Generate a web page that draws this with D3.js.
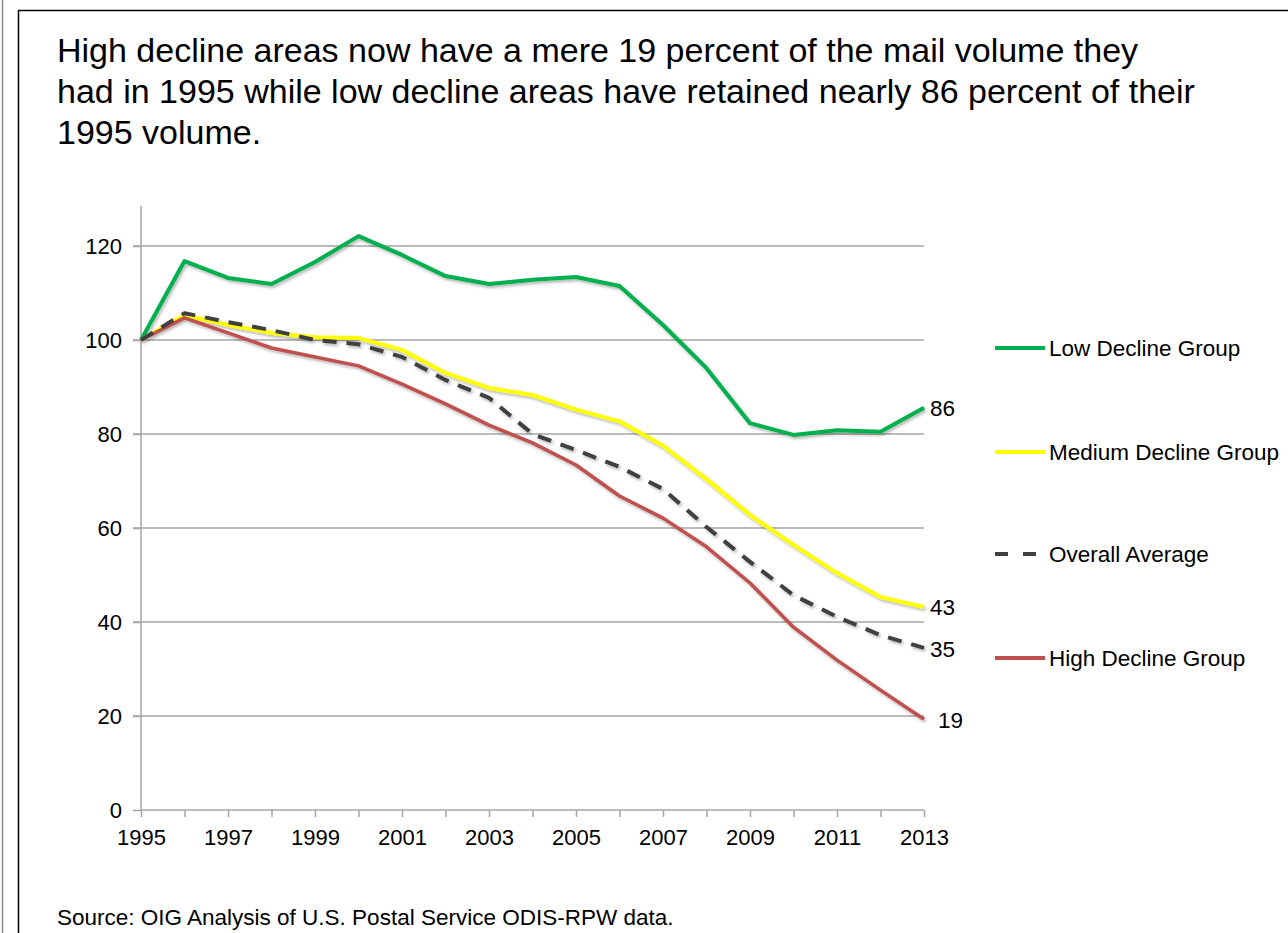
<!DOCTYPE html>
<html>
<head>
<meta charset="utf-8">
<script src="https://cdnjs.cloudflare.com/ajax/libs/d3/7.8.5/d3.min.js"></script>
<style>
  html, body { margin: 0; padding: 0; background: #fff; }
  svg { display: block; font-family: "Liberation Sans", Arial, sans-serif; }
</style>
</head>
<body>
<svg id="chart" width="1288" height="933"></svg>
<script>
// Mail volume index (1995 = 100) by area decline group
const years = d3.range(1995, 2014);
const lowDecline    = [100, 116.8, 113.2, 111.9, 116.6, 122.1, 118.1, 113.6, 111.9, 112.8, 113.4, 111.5, 103.2, 94.0, 82.3, 79.8, 80.8, 80.5, 85.6];
const mediumDecline = [100, 105.3, 103.2, 101.5, 100.6, 100.4, 97.9, 93.0, 89.8, 88.3, 85.2, 82.7, 77.5, 70.4, 62.8, 56.4, 50.4, 45.3, 43.2];
const overallAvg    = [100, 105.7, 103.8, 102.1, 100.0, 99.1, 96.4, 91.5, 87.7, 80.0, 76.6, 73.0, 68.3, 60.2, 52.8, 45.7, 41.1, 37.2, 34.5];
const highDecline   = [100, 104.7, 101.5, 98.3, 96.4, 94.5, 90.6, 86.4, 81.9, 78.1, 73.4, 66.8, 62.1, 56.0, 48.3, 38.9, 31.9, 25.5, 19.3];
const yTicks = [0, 20, 40, 60, 80, 100, 120];
const xTickLabels = [1995, 1997, 1999, 2001, 2003, 2005, 2007, 2009, 2011, 2013];
const endLabels = ["86", "43", "35", "19"];

const titleLines = [
  "High decline areas now have a mere 19 percent of the mail volume they",
  "had in 1995 while low decline areas have retained nearly 86 percent of their",
  "1995 volume."
];
const sourceText = "Source: OIG Analysis of U.S. Postal Service ODIS-RPW data.";

const series = [
  { name: "Low Decline Group",    values: lowDecline,    color: "#00b050", width: 4,   dash: null,    label: endLabels[0], ly: 348, dx: 6,  dy: 0 },
  { name: "Medium Decline Group", values: mediumDecline, color: "#ffff00", width: 4,   dash: null,    label: endLabels[1], ly: 452, dx: 6,  dy: 0 },
  { name: "Overall Average",      values: overallAvg,    color: "#404040", width: 4,   dash: "14,10", label: endLabels[2], ly: 554, dx: 6,  dy: 1 },
  { name: "High Decline Group",   values: highDecline,   color: "#c0504d", width: 3.5, dash: null,    label: endLabels[3], ly: 658, dx: 14, dy: 1 }
];
// draw order: overall sits between medium and high
const drawOrder = [0, 1, 3, 2];

const svg = d3.select("#chart");

// soft drop shadow under the series lines
const defs = svg.append("defs");
const f = defs.append("filter").attr("id", "shadow")
  .attr("x", "-5%").attr("y", "-5%").attr("width", "110%").attr("height", "120%");
f.append("feDropShadow").attr("dx", 1.5).attr("dy", 2).attr("stdDeviation", 1.5)
  .attr("flood-color", "#000").attr("flood-opacity", 0.3);

// frame
svg.append("line").attr("x1", 2.5).attr("x2", 2.5).attr("y1", 0).attr("y2", 933)
  .attr("stroke", "#8a8a8a").attr("stroke-width", 1.5);
svg.append("path").attr("d", "M18.5,933 V10.5 H1288")
  .attr("fill", "none").attr("stroke", "#000").attr("stroke-width", 1.5);

// title
svg.append("g").selectAll("text").data(titleLines).join("text")
  .attr("x", 57).attr("y", (d, i) => 62 + i * 41)
  .attr("font-size", 34).attr("fill", "#000").text(d => d);

// scales
const x = d3.scaleLinear().domain([1995, 2013]).range([141, 924]);
const y = d3.scaleLinear().domain([0, 120]).range([810, 246]);

// gridlines
svg.append("g").selectAll("line").data(yTicks.filter(t => t > 0)).join("line")
  .attr("x1", 133).attr("x2", 924)
  .attr("y1", d => y(d)).attr("y2", d => y(d))
  .attr("stroke", "#a6a6a6").attr("stroke-width", 1.5);

// y axis
const yAxis = d3.axisLeft(y).tickValues(yTicks).tickSize(8).tickPadding(11);
const gy = svg.append("g").attr("transform", "translate(141,0)").call(yAxis);
gy.select(".domain").remove();
gy.append("line").attr("x1", 0).attr("x2", 0).attr("y1", y(128.5)).attr("y2", y(0))
  .attr("stroke", "#a6a6a6").attr("stroke-width", 1.5);
gy.selectAll(".tick line").attr("stroke", "#a6a6a6").attr("stroke-width", 1.5);
gy.selectAll(".tick text").attr("font-size", 22).attr("fill", "#000")
  .attr("font-family", "Liberation Sans, Arial, sans-serif");

// x axis
const xAxis = d3.axisBottom(x).tickValues(years).tickSize(7).tickPadding(12)
  .tickFormat(d => xTickLabels.includes(d) ? String(d) : "");
const gx = svg.append("g").attr("transform", `translate(0,${y(0)})`).call(xAxis);
gx.select(".domain").attr("stroke", "#a6a6a6").attr("stroke-width", 1.5)
  .attr("d", `M141,0H924`);
gx.selectAll(".tick line").attr("stroke", "#a6a6a6").attr("stroke-width", 1.5);
gx.selectAll(".tick text").attr("font-size", 22).attr("fill", "#000")
  .attr("font-family", "Liberation Sans, Arial, sans-serif");

// series lines
const line = d3.line().x((d, i) => x(years[i])).y(d => y(d));
const gl = svg.append("g").attr("filter", "url(#shadow)");
drawOrder.forEach(k => {
  const s = series[k];
  gl.append("path").datum(s.values)
    .attr("d", line)
    .attr("fill", "none")
    .attr("stroke", s.color)
    .attr("stroke-width", s.width)
    .attr("stroke-linejoin", "round")
    .attr("stroke-dasharray", s.dash);
});

// end-of-line value labels
svg.append("g").selectAll("text").data(series).join("text")
  .attr("x", d => x(2013) + d.dx)
  .attr("y", d => y(d.values[d.values.length - 1]) + d.dy)
  .attr("dy", "0.35em")
  .attr("font-size", 22.5).attr("fill", "#000")
  .text(d => d.label);

// legend
const lg = svg.append("g").selectAll("g").data(series).join("g")
  .attr("transform", d => `translate(0,${d.ly})`);
lg.append("line").attr("x1", 995).attr("x2", 1045).attr("y1", 0).attr("y2", 0)
  .attr("stroke", d => d.color).attr("stroke-width", 4)
  .attr("stroke-dasharray", d => d.dash ? "13,15" : null);
lg.append("text").attr("x", 1049).attr("y", 0).attr("dy", "0.35em")
  .attr("font-size", 22.5).attr("fill", "#000").text(d => d.name);

// source note
svg.append("text").attr("x", 57).attr("y", 925)
  .attr("font-size", 22.5).attr("fill", "#000").text(sourceText);
</script>
</body>
</html>
